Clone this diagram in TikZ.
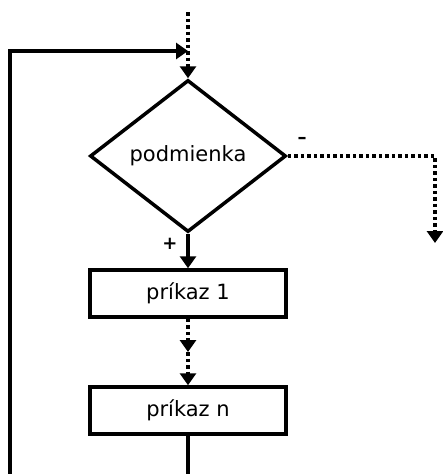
\documentclass[tikz,border=0pt]{standalone}
\usepackage{fontspec}
\setmainfont{DejaVu Sans}
\usetikzlibrary{shapes.geometric,arrows.meta}
\begin{document}
\begin{tikzpicture}[x=1pt,y=-1pt,line width=3.5pt,
  tip/.style={-{Triangle[width=16pt,length=12pt]}},
  dots/.style={dash pattern=on 3.5pt off 3pt},
  cond/.style={draw,diamond,minimum width=196pt,minimum height=152pt,inner sep=0pt,font=\fontsize{21}{25}\selectfont,line width=3.5pt},
  stepbox/.style={draw,rectangle,minimum width=196pt,minimum height=47pt,inner sep=0pt,font=\fontsize{21}{25}\selectfont,line width=3.5pt},
  lbl/.style={font=\bfseries\fontsize{18}{20}\selectfont,inner sep=0pt}]
\useasboundingbox (0,0) rectangle (442,474);
\node[cond] (c) at (188,156) {podmienka};
\node[stepbox] (b1) at (188,293.5) {príkaz 1};
\node[stepbox] (bn) at (188,410.5) {príkaz n};
\coordinate (top) at (188,12);
\coordinate (entry) at (188,51);
\coordinate (loopc) at (10,51);
\coordinate (loopb) at (10,474);
\coordinate (botn) at (188,474);
\coordinate (rc) at (435,156);
\coordinate (rend) at (435,243);
\coordinate (mid) at (188,352);
\draw[line width=3.5pt,dots,tip] (top) -- (c.north);
\draw[line width=3.5pt,tip] (loopb) -- (loopc) -- (entry);
\draw[line width=3.5pt,dots,tip] (c.east) -- (rc) -- (rend);
\draw[line width=3.5pt,tip] (c.south) -- (b1.north);
\draw[line width=3.5pt,dots,tip] (b1.south) -- (mid);
\draw[line width=3.5pt,dots,tip] (mid) -- (bn.north);
\draw[line width=3.5pt] (bn.south) -- (botn);
\node[lbl] (minus) at (302,140) {–};
\node[lbl] (plus) at (170,244) {+};
\end{tikzpicture}
\end{document}
